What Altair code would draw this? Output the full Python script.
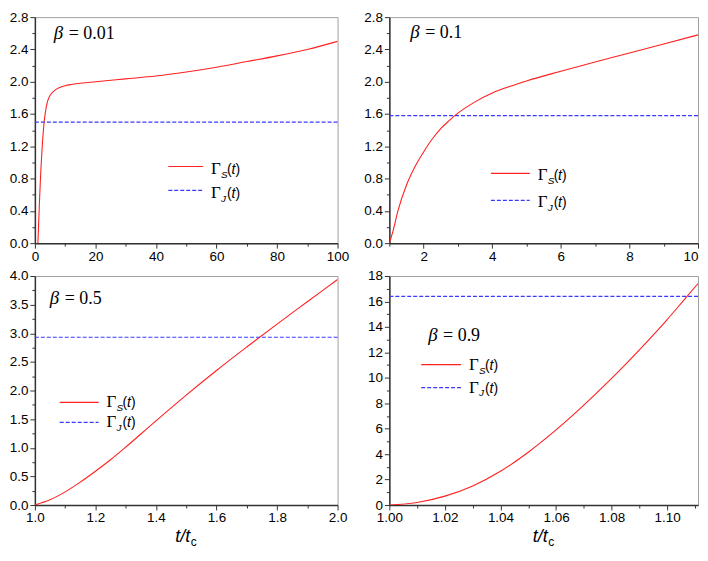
import altair as alt
import pandas as pd

RED = "#ff2020"
BLUE = "#3a3aff"
SANS = "Liberation Sans"
SERIF = "Liberation Serif"

# ---------------- data ----------------
# beta = 0.01
P1_T = [1, 1.25, 1.5, 1.75, 2, 2.25, 2.5, 2.75, 3, 3.5, 4, 4.5, 5, 6, 7, 8, 10, 12, 15, 20,
        30, 40, 50, 60, 70, 80, 90, 100]
P1_S = [0, 0.25, 0.5, 0.72, 0.92, 1.09, 1.24, 1.37, 1.48, 1.63, 1.73, 1.79, 1.83, 1.875, 1.905,
        1.925, 1.95, 1.965, 1.98, 2.0, 2.035, 2.07, 2.12, 2.18, 2.25, 2.32, 2.40, 2.50]
P1_J = 1.50
# beta = 0.1
P2_T = [1, 1.1, 1.25, 1.5, 1.75, 2, 2.25, 2.5, 2.75, 3, 3.5, 4, 4.5, 5, 6, 7, 8, 9, 10]
P2_S = [0, 0.14, 0.40, 0.72, 0.95, 1.13, 1.29, 1.42, 1.52, 1.61, 1.75, 1.86, 1.94, 2.01,
        2.13, 2.245, 2.355, 2.467, 2.58]
P2_J = 1.58
# beta = 0.5
P3_T = [1.0, 1.05, 1.1, 1.15, 1.2, 1.25, 1.3, 1.35, 1.4, 1.5, 1.6, 1.7, 1.8, 1.9, 2.0]
P3_S = [0, 0.09, 0.23, 0.40, 0.59, 0.79, 1.01, 1.24, 1.47, 1.92, 2.35, 2.76, 3.16, 3.55, 3.94]
P3_J = 2.93
# beta = 0.9
P4_T = [1.00, 1.01, 1.02, 1.03, 1.04, 1.05, 1.06, 1.07, 1.08, 1.09, 1.10, 1.1054, 1.1111]
P4_S = [0, 0.2, 0.7, 1.5, 2.65, 4.15, 5.9, 7.85, 9.95, 12.2, 14.58, 15.95, 17.41]
P4_J = 16.4

# tick values (major + minor)
P1_XTICKS = [0, 10, 20, 30, 40, 50, 60, 70, 80, 90, 100]
P12_YTICKS = [0, 0.2, 0.4, 0.6, 0.8, 1.0, 1.2, 1.4, 1.6, 1.8, 2.0, 2.2, 2.4, 2.6, 2.8]
P2_XTICKS = [1, 2, 3, 4, 5, 6, 7, 8, 9, 10]
P3_XTICKS = [1.0, 1.1, 1.2, 1.3, 1.4, 1.5, 1.6, 1.7, 1.8, 1.9, 2.0]
P3_YTICKS = [0, 0.25, 0.5, 0.75, 1.0, 1.25, 1.5, 1.75, 2.0, 2.25, 2.5, 2.75, 3.0, 3.25, 3.5,
             3.75, 4.0]
P4_XTICKS = [1.00, 1.01, 1.02, 1.03, 1.04, 1.05, 1.06, 1.07, 1.08, 1.09, 1.10, 1.11]
P4_YTICKS = [0, 1, 2, 3, 4, 5, 6, 7, 8, 9, 10, 11, 12, 13, 14, 15, 16, 17, 18]

BETAS = ["0.01", "0.1", "0.5", "0.9"]

DUMMY = pd.DataFrame({"d": [0]})


def make_axis(values, base, step, fmt, flush=False):
    test = (f"abs((datum.value - ({base})) / {step} - "
            f"round((datum.value - ({base})) / {step})) < 0.001")
    return alt.Axis(
        values=values,
        labelExpr=f"{test} ? format(datum.value, '{fmt}') : ''",
        tickSize={"condition": {"test": test, "value": 5}, "value": 3},
        grid=False, labelFlush=flush, labelOverlap=False, title=None,
    )


def txt(x, y, s, font=SANS, size=14, style="normal"):
    return alt.Chart(DUMMY).mark_text(
        text=s, font=font, fontSize=size, fontStyle=style, align="left",
        baseline="alphabetic", color="black",
    ).encode(x=alt.value(x), y=alt.value(y))


def legend(lx, ly1, ly2, ln, dy):
    layers = []
    for y, color, sub, dashed in [(ly1, RED, "S", False), (ly2, BLUE, "J", True)]:
        kw = dict(color=color, strokeWidth=1.2)
        if dashed:
            kw["strokeDash"] = [4, 2]
        layers.append(alt.Chart(DUMMY).mark_rule(**kw).encode(
            x=alt.value(lx), x2=alt.value(lx + ln), y=alt.value(y)))
        tx = lx + ln + 8
        by = y + dy
        layers.append(txt(tx, by, "Γ", SERIF, 17))
        layers.append(txt(tx + 10, by + 4, sub, SANS, 10, "italic"))
        layers.append(txt(tx + 16, by, "(", SANS, 14))
        layers.append(txt(tx + 20.5, by, "t", SANS, 14, "italic"))
        layers.append(txt(tx + 24.5, by, ")", SANS, 14))
    return layers


def panel(t, s, j, xdom, ydom, xax, yax, w, h, beta, bpos, leg, xtitle):
    df = pd.DataFrame({"t": t, "v": s})
    xs = alt.Scale(domain=xdom, nice=False, zero=False)
    ys = alt.Scale(domain=ydom, nice=False, zero=False)
    curve = alt.Chart(df).mark_line(
        color=RED, strokeWidth=1.1, interpolate="monotone", clip=True
    ).encode(
        x=alt.X("t:Q", scale=xs, axis=xax),
        y=alt.Y("v:Q", scale=ys, axis=yax),
    )
    jline = alt.Chart(pd.DataFrame({"v": [j]})).mark_rule(
        color=BLUE, strokeWidth=1.2, strokeDash=[4, 2]
    ).encode(y=alt.Y("v:Q", scale=ys, axis=yax))
    bx, by = bpos
    extras = [txt(bx, by, "β", SERIF, 19, "italic"),
              txt(bx + 15, by, "= " + beta, SERIF, 18)]
    extras += legend(*leg)
    if xtitle:
        cx = w / 2 - 11
        extras += [txt(cx, h + 37, "t/t", SANS, 18, "italic"),
                   txt(cx + 15.5, h + 41, "c", SANS, 12)]
    return alt.layer(curve, jline, *extras).properties(width=w, height=h)


WL, WR = 304, 310
HT, HB = 227, 230

p1 = panel(P1_T, P1_S, P1_J, [0, 100], [0, 2.8],
           make_axis(P1_XTICKS, 0, 20, ".0f"), make_axis(P12_YTICKS, 0, 0.4, ".1f"),
           WL, HT, BETAS[0], (19, 22), (134, 150, 174, 35, 8), False)
p2 = panel(P2_T, P2_S, P2_J, [1, 10], [0, 2.8],
           make_axis(P2_XTICKS, 0, 2, ".0f", flush=True), make_axis(P12_YTICKS, 0, 0.4, ".1f"),
           WR, HT, BETAS[1], (21, 21), (102, 157, 184, 39, 7), False)
p3 = panel(P3_T, P3_S, P3_J, [1, 2], [0, 4],
           make_axis(P3_XTICKS, 1, 0.2, ".1f"), make_axis(P3_YTICKS, 0, 0.5, ".1f"),
           WL, HB, BETAS[2], (15, 28), (25, 127, 147, 39, 5), True)
p4 = panel(P4_T, P4_S, P4_J, [1, 1.1111], [0, 18],
           make_axis(P4_XTICKS, 1, 0.02, ".2f"), make_axis(P4_YTICKS, 0, 2, ".0f"),
           WR, HB, BETAS[3], (39, 65), (32, 89, 112, 40, 5), True)

top = alt.hconcat(p1, p2, spacing=13)
bottom = alt.hconcat(p3, p4, spacing=19)

chart = alt.vconcat(top, bottom, spacing=5).properties(
    padding=0
).configure_view(
    stroke="#a0a0a0", strokeWidth=1
).configure_axis(
    labelFont=SANS, labelFontSize=13.5, labelColor="black",
    domainColor="#333333", domainWidth=1.5, tickColor="#333333", tickWidth=1,
).configure_axisX(labelPadding=1).configure_axisY(labelPadding=2)

chart.save("out.html", embed_options={"renderer": "svg", "actions": False})
